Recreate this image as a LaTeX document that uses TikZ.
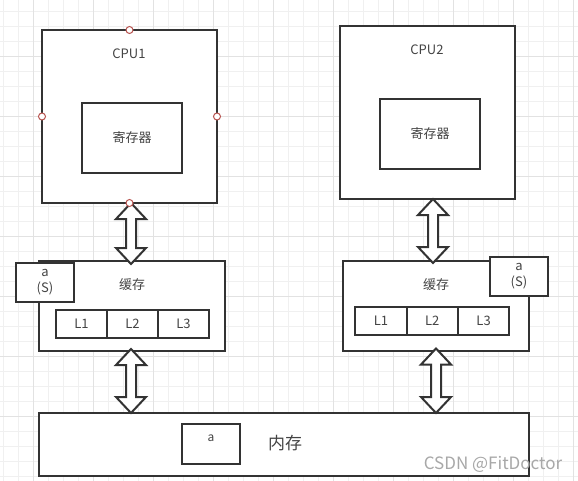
\documentclass[tikz,border=0pt]{standalone}
\usepackage{fontspec}
\setmainfont{Noto Sans CJK SC}
\usetikzlibrary{calc}
\definecolor{boxc}{HTML}{333333}
\definecolor{txtc}{HTML}{444444}
\definecolor{gridminor}{HTML}{F0F0F0}
\definecolor{gridmajor}{HTML}{E2E2E2}
\definecolor{handlec}{HTML}{B85450}
\definecolor{wmark}{HTML}{A8A8A8}
\newcommand{\blockarr}[2]{%
  \draw[blockarrow] (#1) -- ++(15,16) -- ++(-10,0) -- ($(#2)+(5,-16)$) -- ++(10,0) -- (#2)
    -- ++(-15,-16) -- ++(10,0) -- ($(#1)+(-5,16)$) -- ++(-10,0) -- cycle;}
\begin{document}
\begin{tikzpicture}[x=1bp,y=-1bp,
  box/.style={draw=boxc,line width=2bp,fill=white,rectangle,inner sep=0,outer sep=0},
  lbl/.style={text=txtc,font=\fontsize{13bp}{16bp}\selectfont,inner sep=0,align=center},
  handlept/.style={circle,draw=handlec,fill=white,line width=1bp,minimum size=7bp,inner sep=0},
  blockarrow/.style={draw=boxc,line width=2bp,fill=white,line join=miter}]

\useasboundingbox (0,0) rectangle (578,481);
\fill[white] (0,0) rectangle (578,481);
% background grid
\foreach \k in {0,...,38} {\draw[gridminor,line width=1bp] (3.3+15*\k,0) -- (3.3+15*\k,481);}
\foreach \k in {0,...,31} {\draw[gridminor,line width=1bp] (0,11.7+15*\k) -- (578,11.7+15*\k);}
\foreach \k in {0,...,9} {\draw[gridmajor,line width=1bp] (33.3+60*\k,0) -- (33.3+60*\k,481);}
\foreach \k in {0,...,7} {\draw[gridmajor,line width=1bp] (0,-3.3+60*\k) -- (578,-3.3+60*\k);}

% CPU boxes
\node[box,minimum width=175bp,minimum height=173bp] (cpu1) at (129.5,116.5) {};
\node[box,minimum width=100bp,minimum height=70bp] (reg1) at (132,138) {};
\node[lbl] (cpu1l) at (129,54) {CPU1};
\node[lbl] (reg1l) at (132,138) {寄存器};

\node[box,minimum width=175bp,minimum height=173bp] (cpu2) at (427.5,112.5) {};
\node[box,minimum width=100bp,minimum height=70bp] (reg2) at (430,134) {};
\node[lbl] (cpu2l) at (427,50) {CPU2};
\node[lbl] (reg2l) at (430,134) {寄存器};

% caches
\node[box,minimum width=186bp,minimum height=90bp] (cache1) at (132,306) {};
\node[lbl] (cache1l) at (132,285) {缓存};
\node[box,lbl,minimum width=51bp,minimum height=28bp] (c1l1) at (81.5,324) {L1};
\node[box,lbl,minimum width=51bp,minimum height=28bp] (c1l2) at (132.5,324) {L2};
\node[box,lbl,minimum width=51bp,minimum height=28bp] (c1l3) at (183.5,324) {L3};
\node[box,lbl,minimum width=58bp,minimum height=39bp] (as1) at (45,282.5) {a\\(S)};

\node[box,minimum width=186bp,minimum height=90bp] (cache2) at (436,306) {};
\node[lbl] (cache2l) at (436,285) {缓存};
\node[box,lbl,minimum width=51.3bp,minimum height=28bp] (c2l1) at (381,321) {L1};
\node[box,lbl,minimum width=51.3bp,minimum height=28bp] (c2l2) at (432.3,321) {L2};
\node[box,lbl,minimum width=51.3bp,minimum height=28bp] (c2l3) at (483.6,321) {L3};
\node[box,lbl,minimum width=58bp,minimum height=39bp] (as2) at (519,276.5) {a\\(S)};

% memory
\node[box,minimum width=490bp,minimum height=63bp] (mem) at (284,444.5) {};
\node[box,minimum width=58bp,minimum height=40bp] (mema) at (211,444) {};
\node[lbl,font=\fontsize{12bp}{14bp}\selectfont] (memal) at (211,438) {a};
\node[lbl,font=\fontsize{17bp}{20bp}\selectfont] (meml) at (285,443) {内存};

% arrows
\coordinate (a1t) at ($(cpu1.south)+(1.5,0)$);
\coordinate (a1b) at ($(cache1.north)+(-1,3)$);
\coordinate (a2t) at ($(cache1.south)+(-1,-2)$);
\coordinate (a2b) at ($(cache1.south |- mem.north)+(-1,0)$);
\coordinate (a3t) at ($(cpu2.south)+(5.5,0)$);
\coordinate (a3b) at ($(cache2.north)+(-3,2)$);
\coordinate (a4t) at ($(cache2.south)+(0,-2.5)$);
\coordinate (a4b) at (cache2.south |- mem.north);
\blockarr{a1t}{a1b}
\blockarr{a2t}{a2b}
\blockarr{a3t}{a3b}
\blockarr{a4t}{a4b}

% selection handles on CPU1
\node[handlept] (h1) at (cpu1.north) {};
\node[handlept] (h2) at (cpu1.west) {};
\node[handlept] (h3) at (cpu1.east) {};
\node[handlept] (h4) at (cpu1.south) {};

% watermark
\node[text=wmark,font=\fontsize{17bp}{20bp}\selectfont,inner sep=0] (wm) at (493,464) {CSDN @FitDoctor};
\end{tikzpicture}
\end{document}
